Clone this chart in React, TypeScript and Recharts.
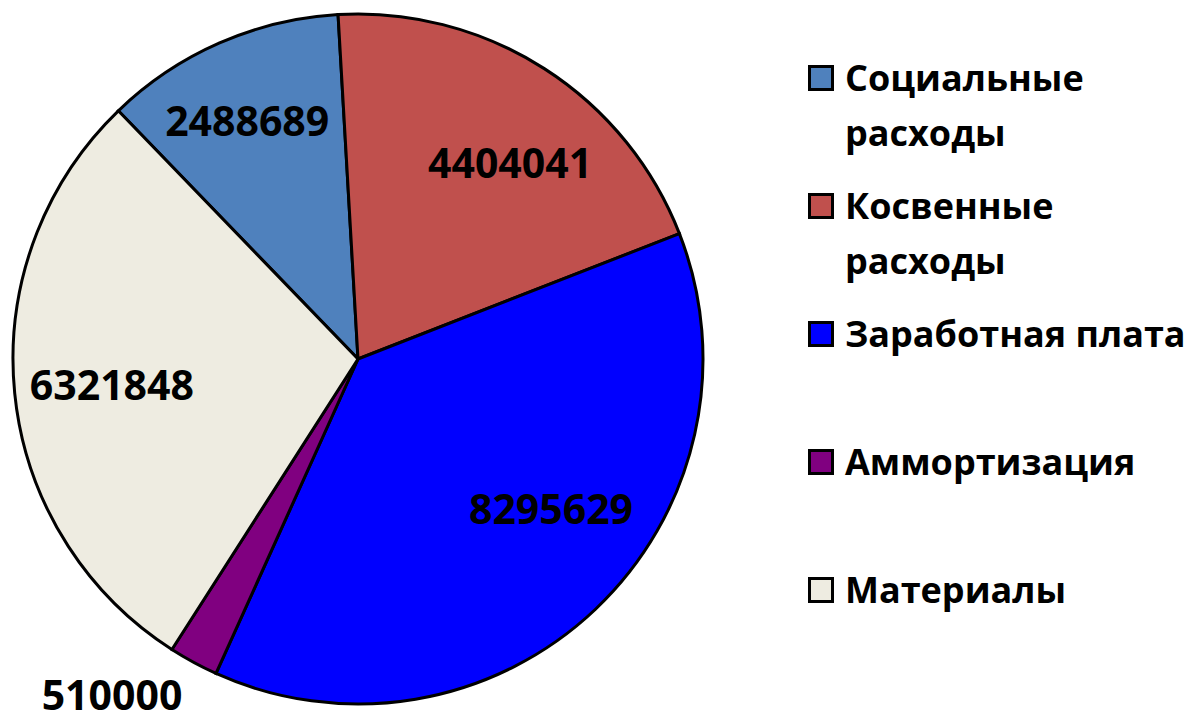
import { PieChart, Pie, Cell, Legend } from 'recharts';

// categories in legend order, values
const categories = ['Социальные расходы', 'Косвенные расходы', 'Заработная плата', 'Аммортизация', 'Материалы'];
const values = [2488689, 4404041, 8295629, 510000, 6321848];
const colors = ['#4F81BD', '#C0504D', '#0000FF', '#800080', '#EEECE1'];

// where each data label sits (fraction of radius, degrees away from slice middle)
const labelRadius = [0.764, 0.721, 0.707, 1.205, 0.717];
const labelShift = [1.2, -5, 8.8, -7.8, 0.1];

const data = categories.map((name, i) => ({ name, value: values[i] }));

const RADIAN = Math.PI / 180;

const renderLabel = (props: any) => {
  const { cx, cy, midAngle, outerRadius, index, value } = props;
  const r = outerRadius * labelRadius[index];
  const a = (midAngle + labelShift[index]) * RADIAN;
  const x = cx + r * Math.cos(a);
  const y = cy - r * Math.sin(a);
  return (
    <text
      x={x}
      y={y}
      fill="#000"
      textAnchor="middle"
      dominantBaseline="central"
      fontFamily="'Open Sans', sans-serif"
      fontWeight={700}
      fontSize={41}
    >
      {value}
    </text>
  );
};

const renderLegend = () => (
  <div style={{ fontFamily: "'Open Sans', sans-serif", fontWeight: 700, fontSize: 36, color: '#000' }}>
    {categories.map((name, i) => (
      <div key={name} style={{ display: 'flex', alignItems: 'flex-start', height: 128 }}>
        <div
          style={{
            width: 26,
            height: 26,
            boxSizing: 'border-box',
            border: '3px solid #000',
            background: colors[i],
            marginTop: 15,
            marginRight: 11,
            flexShrink: 0,
          }}
        />
        <span style={{ width: 344, lineHeight: '55px' }}>{name}</span>
      </div>
    ))}
  </div>
);

export default function App() {
  return (
    <div style={{ position: 'absolute', left: 0, top: 0, width: 1189, height: 725, background: '#fff' }}>
      <PieChart width={1189} height={725} margin={{ top: 0, right: 0, bottom: 0, left: 0 }}>
        <Pie
          data={data}
          dataKey="value"
          nameKey="name"
          cx={358}
          cy={359}
          outerRadius={345}
          startAngle={134}
          endAngle={-226}
          stroke="#000"
          strokeWidth={3}
          label={renderLabel}
          labelLine={false}
          isAnimationActive={false}
        >
          {data.map((d, i) => (
            <Cell key={d.name} fill={colors[i]} />
          ))}
        </Pie>
        <Legend
          layout="vertical"
          verticalAlign="top"
          align="right"
          content={renderLegend}
          wrapperStyle={{ position: 'absolute', left: 808, top: 50, width: 381 }}
        />
      </PieChart>
    </div>
  );
}
